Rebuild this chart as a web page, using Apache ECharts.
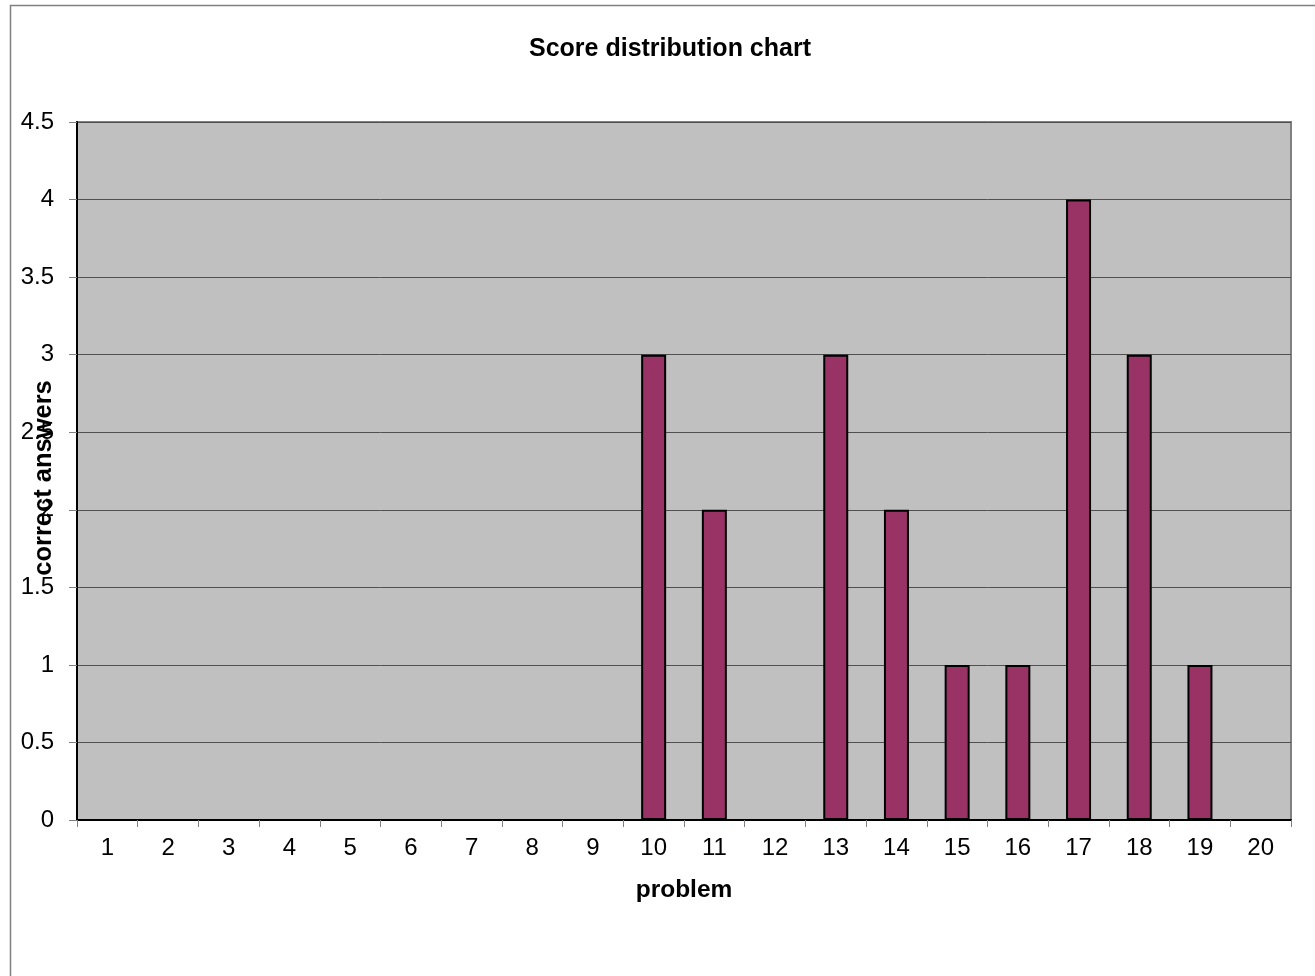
<!DOCTYPE html>
<html>
<head>
<meta charset="utf-8">
<script src="https://cdn.jsdelivr.net/npm/echarts@6/dist/echarts.min.js"></script>
<style>
html,body{margin:0;padding:0;background:#fff;}
#chart{width:1315px;height:976px;}
</style>
</head>
<body>
<div id="chart"></div>
<script>
const categories = ['1','2','3','4','5','6','7','8','9','10','11','12','13','14','15','16','17','18','19','20'];
const correctAnswers = [0,0,0,0,0,0,0,0,0,3,2,0,3,2,1,1,4,3,1,0];
const titleText = 'Score distribution chart';
const xName = 'problem';
const yName = 'correct answers';

const FONT = '"Liberation Sans", Arial, sans-serif';
const chart = echarts.init(document.getElementById('chart'), null, {renderer: 'canvas'});
chart.setOption({
  backgroundColor: '#ffffff',
  animation: false,
  title: {
    text: titleText,
    left: 529,
    top: 37,
    padding: 0,
    textStyle: {fontFamily: FONT, fontSize: 25, fontWeight: 'bold', color: '#000'}
  },
  graphic: [{
    type: 'rect',
    shape: {x: 10.5, y: 5.5, width: 1400, height: 1100},
    style: {fill: null, stroke: '#808080', lineWidth: 1.5},
    silent: true,
    z: -10
  }],
  grid: {
    left: 77, top: 122, right: 24, bottom: 156,
    containLabel: false,
    outerBoundsMode: 'none',
    show: true,
    backgroundColor: '#c0c0c0',
    borderColor: '#808080',
    borderWidth: 2
  },
  xAxis: {
    type: 'category',
    data: categories,
    name: xName,
    nameLocation: 'middle',
    nameGap: 58,
    nameMoveOverlap: false,
    nameTextStyle: {fontFamily: FONT, fontSize: 24.5, fontWeight: 'bold', color: '#000'},
    axisLine: {show: true, lineStyle: {color: '#000', width: 2}},
    axisTick: {show: true, alignWithLabel: false, length: 7, lineStyle: {color: '#808080', width: 1}},
    axisLabel: {fontFamily: FONT, fontSize: 24, color: '#000', margin: 16, interval: 0},
    splitLine: {show: false}
  },
  yAxis: {
    type: 'value',
    min: 0, max: 4.5, interval: 0.5,
    name: yName,
    nameLocation: 'middle',
    nameRotate: 90,
    nameGap: 20,
    nameMoveOverlap: false,
    nameTextStyle: {fontFamily: FONT, fontSize: 25.5, fontWeight: 'bold', color: '#000', padding: [0, 14, 0, 0]},
    axisLine: {show: true, lineStyle: {color: '#000', width: 2}},
    axisTick: {show: true, inside: false, length: 8, lineStyle: {color: '#808080', width: 1}},
    axisLabel: {fontFamily: FONT, fontSize: 24, color: '#000', margin: 23},
    splitLine: {show: true, lineStyle: {color: '#505050', width: 1}}
  },
  series: [{
    type: 'bar',
    data: correctAnswers,
    barWidth: 25,
    itemStyle: {color: '#993366', borderColor: '#000', borderWidth: 2}
  }]
});
</script>
</body>
</html>
